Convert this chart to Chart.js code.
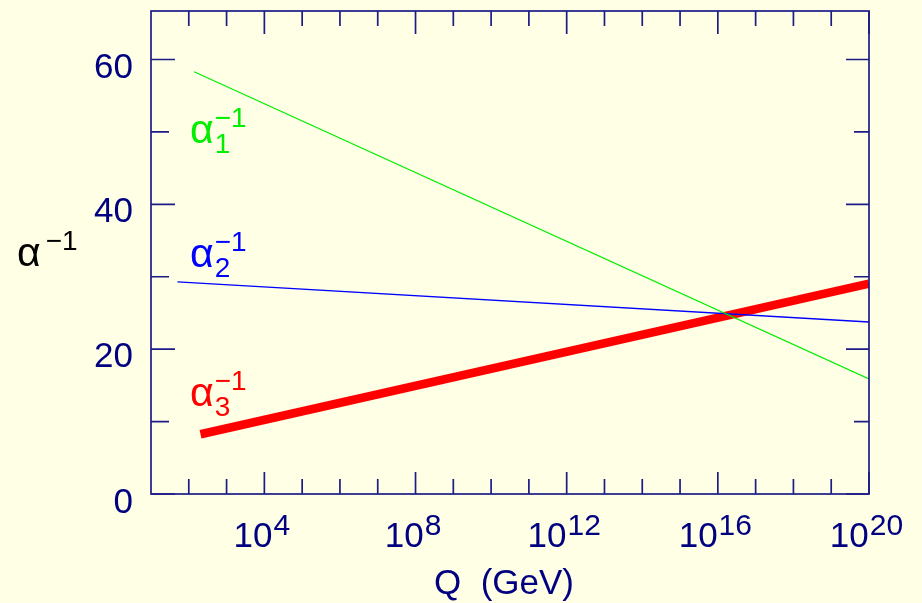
<!DOCTYPE html>
<html><head><meta charset="utf-8">
<script src="https://cdn.jsdelivr.net/npm/chart.js@4.4.1/dist/chart.umd.min.js"></script>
<style>html,body{margin:0;padding:0;background:#ffffe6;overflow:hidden}canvas{display:block}</style>
</head><body>
<canvas id="c" width="922" height="603"></canvas>
<script>
// ---- data (x = log10 Q/GeV, y = inverse coupling) ----
const alpha1LogQ = [2.14, 20];
const alpha1Inv  = [58.3, 15.9];
const alpha2LogQ = [1.70, 20];
const alpha2Inv  = [29.3, 23.75];
const alpha3LogQ = [2.31, 20];
const alpha3Inv  = [8.25, 29.05];
const seriesSubscripts = ['1', '2', '3'];
const labelLogQ = [2.03, 2.03, 2.03];
const labelInv  = [48.5, 31.4, 12.1];
const yMajorTicks = [0, 20, 40, 60];
const yMinorTicks = [10, 30, 50];
const xMajorExponents = [4, 8, 12, 16, 20];
const xMinorExponents = [2, 3, 5, 6, 7, 9, 10, 11, 13, 14, 15, 17, 18, 19];
const xTitle = 'Q  (GeV)';

const FONT = '"Liberation Sans", Arial, Helvetica, sans-serif';
const NAVY = '#000080';
const AXIS = '#1c1c86';
const BG = '#ffffe6';
const COLORS = ['#00ee00', '#0000ff', '#ff0000'];

function pts(xs, ys) { return xs.map((x, i) => ({ x: x, y: ys[i] })); }

function drawAlpha(ctx, x, y, sub, color, gap) {
  ctx.fillStyle = color;
  ctx.textAlign = 'left';
  ctx.textBaseline = 'alphabetic';
  ctx.font = '41px ' + FONT;
  ctx.fillText('\u03b1', x, y);
  const w = ctx.measureText('\u03b1').width;
  ctx.font = '28px ' + FONT;
  ctx.fillText('\u22121', x + w + gap, y - 16);
  if (sub) ctx.fillText(sub, x + w + gap, y + 10);
}

const framePlugin = {
  id: 'frame',
  beforeDraw(chart) {
    const ctx = chart.ctx;
    ctx.save();
    ctx.fillStyle = BG;
    ctx.fillRect(0, 0, chart.width, chart.height);
    ctx.restore();
  },
  afterDraw(chart) {
    const ctx = chart.ctx;
    const a = chart.chartArea;
    const xs = chart.scales.x, ys = chart.scales.y;
    ctx.save();
    ctx.strokeStyle = AXIS;
    ctx.lineWidth = 1.7;
    ctx.strokeRect(a.left, a.top, a.right - a.left, a.bottom - a.top);
    ctx.beginPath();
    const tick = (x1, y1, x2, y2) => { ctx.moveTo(x1, y1); ctx.lineTo(x2, y2); };
    yMajorTicks.forEach(v => { const p = ys.getPixelForValue(v); tick(a.left, p, a.left + 24, p); tick(a.right, p, a.right - 23, p); });
    yMinorTicks.forEach(v => { const p = ys.getPixelForValue(v); tick(a.left, p, a.left + 18, p); tick(a.right, p, a.right - 15, p); });
    xMajorExponents.forEach(v => { const p = xs.getPixelForValue(v); tick(p, a.bottom, p, a.bottom - 22); tick(p, a.top, p, a.top + 23); });
    xMinorExponents.forEach(v => { const p = xs.getPixelForValue(v); tick(p, a.bottom, p, a.bottom - 15); tick(p, a.top, p, a.top + 15); });
    ctx.stroke();

    // y tick labels
    ctx.fillStyle = NAVY;
    ctx.font = '35px ' + FONT;
    ctx.textAlign = 'right';
    ctx.textBaseline = 'alphabetic';
    yMajorTicks.forEach(v => {
      const p = ys.getPixelForValue(v);
      ctx.fillText(String(v), a.left - 18, p + (v === 0 ? 19 : 18));
    });

    // x tick labels: 10^n
    ctx.textAlign = 'left';
    xMajorExponents.forEach(n => {
      const p = xs.getPixelForValue(n);
      ctx.font = '35px ' + FONT;
      const wb = ctx.measureText('10').width;
      ctx.font = '30px ' + FONT;
      const ws = ctx.measureText(String(n)).width;
      const x0 = p - 3 - (wb + ws) / 2;
      ctx.font = '35px ' + FONT;
      ctx.fillText('10', x0, a.bottom + 53);
      ctx.font = '30px ' + FONT;
      ctx.fillText(String(n), x0 + wb + 1, a.bottom + 41);
    });

    // x title
    ctx.font = '35px ' + FONT;
    ctx.textAlign = 'center';
    ctx.fillText(xTitle, (a.left + a.right) / 2 - 6, a.bottom + 100);

    // y title
    drawAlpha(ctx, a.left - 134, 266, null, '#000000', 5);

    // series labels
    seriesSubscripts.forEach((s, i) => {
      drawAlpha(ctx, xs.getPixelForValue(labelLogQ[i]), ys.getPixelForValue(labelInv[i]), s, COLORS[i], 1);
    });
    ctx.restore();
  }
};

new Chart(document.getElementById('c'), {
  type: 'scatter',
  data: {
    datasets: [
      { data: pts(alpha1LogQ, alpha1Inv), borderColor: COLORS[0], borderWidth: 1.2 },
      { data: pts(alpha2LogQ, alpha2Inv), borderColor: COLORS[1], borderWidth: 1.3 },
      { data: pts(alpha3LogQ, alpha3Inv), borderColor: COLORS[2], borderWidth: 8.5 }
    ].map(d => Object.assign(d, { showLine: true, pointRadius: 0, pointHoverRadius: 0, fill: false, tension: 0 }))
  },
  options: {
    responsive: false,
    animation: false,
    devicePixelRatio: 1,
    layout: { padding: { left: 151, right: 53, top: 11, bottom: 109 } },
    plugins: { legend: { display: false }, tooltip: { enabled: false } },
    events: [],
    scales: {
      x: { type: 'linear', display: false, min: 1, max: 20 },
      y: { type: 'linear', display: false, min: 0, max: 66.7 }
    }
  },
  plugins: [framePlugin]
});
</script>
</body></html>
